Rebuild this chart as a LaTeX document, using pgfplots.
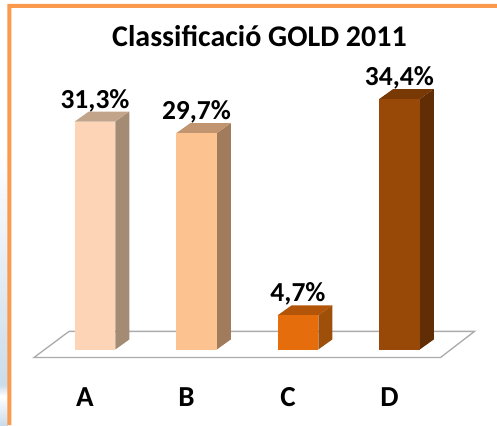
\documentclass[border=0pt]{standalone}
\usepackage{pgfplots}
\pgfplotsset{compat=1.18}
\usepackage{fontspec}
\setmainfont{Carlito}
\definecolor{frameO}{HTML}{FB9A4C}
\definecolor{stripA}{HTML}{E2EBF3}\definecolor{stripB}{HTML}{CBDCEA}
\definecolor{fA}{HTML}{FDD5B6}\definecolor{sA}{HTML}{A38B74}\definecolor{tA}{HTML}{C2A48A}
\definecolor{fB}{HTML}{FCC290}\definecolor{sB}{HTML}{A07C5C}\definecolor{tB}{HTML}{C09570}
\definecolor{fC}{HTML}{E56D0B}\definecolor{sC}{HTML}{9E4F0A}\definecolor{tC}{HTML}{B35509}
\definecolor{fD}{HTML}{984807}\definecolor{sD}{HTML}{612D04}\definecolor{tD}{HTML}{793905}
\definecolor{flr}{HTML}{ABABAB}
\newcommand{\px}[2]{(rel axis cs:{#1/497},{1-#2/425})}
\begin{document}
\begin{tikzpicture}
\begin{axis}[
  scale only axis, width=497pt, height=425pt,
  xmin=-0.936, xmax=3.961, ymin=-10.37, ymax=48.0,
  hide axis, clip=false,
]
% page background and the photo strip on the left
\fill[white] \px{0}{0} rectangle \px{497}{425};
\fill[top color=white,bottom color=stripA] \px{0}{150} rectangle \px{8}{280};
\fill[top color=stripA,bottom color=stripB] \px{0}{280} rectangle \px{8}{385};
\fill[top color=stripB,bottom color=white] \px{0}{385} rectangle \px{8}{396};
\fill[top color=white,bottom color=stripB] \px{0}{396} rectangle \px{8}{425};
% orange frame
\fill[frameO] \px{7.5}{425} -- \px{7.5}{4} -- \px{497}{4} -- \px{497}{8} -- \px{11.5}{8} -- \px{11.5}{425} -- cycle;
% floor
\addplot[draw=flr,line width=1.3pt,fill=white] coordinates {(-0.601,-1.1) (3.404,-1.1) (3.739,2.49) (-0.256,2.49)} -- cycle;
% side faces
\addplot[draw=none,fill=sA] coordinates {(0.2,0) (0.338,1.374) (0.338,32.674) (0.2,31.3)} -- cycle;
\addplot[draw=none,fill=sB] coordinates {(1.2,0) (1.338,1.374) (1.338,31.074) (1.2,29.7)} -- cycle;
\addplot[draw=none,fill=sC] coordinates {(2.2,0) (2.338,1.374) (2.338,6.074) (2.2,4.7)} -- cycle;
\addplot[draw=none,fill=sD] coordinates {(3.2,0) (3.338,1.374) (3.338,35.774) (3.2,34.4)} -- cycle;
% top faces
\addplot[draw=none,fill=tA] coordinates {(-0.2,31.3) (0.2,31.3) (0.338,32.674) (-0.062,32.674)} -- cycle;
\addplot[draw=none,fill=tB] coordinates {(0.8,29.7) (1.2,29.7) (1.338,31.074) (0.938,31.074)} -- cycle;
\addplot[draw=none,fill=tC] coordinates {(1.8,4.7) (2.2,4.7) (2.338,6.074) (1.938,6.074)} -- cycle;
\addplot[draw=none,fill=tD] coordinates {(2.8,34.4) (3.2,34.4) (3.338,35.774) (2.938,35.774)} -- cycle;
% front faces
\addplot[ybar,bar width=40.5pt,bar shift=0pt,draw=none,fill=fA] coordinates {(0,31.3)};
\addplot[ybar,bar width=40.5pt,bar shift=0pt,draw=none,fill=fB] coordinates {(1,29.7)};
\addplot[ybar,bar width=40.5pt,bar shift=0pt,draw=none,fill=fC] coordinates {(2,4.7)};
\addplot[ybar,bar width=40.5pt,bar shift=0pt,draw=none,fill=fD] coordinates {(3,34.4)};
% value labels
\addplot[draw=none,mark=none,point meta=explicit symbolic,
  nodes near coords,
  every node near coord/.style={anchor=center,yshift=21pt,font=\fontsize{27.5}{27.5}\selectfont\bfseries,text=black,inner sep=0pt}]
  coordinates {(0,31.3)[31,3\%] (1,29.7)[29,7\%] (2,4.7)[4,7\%] (3,34.4)[34,4\%]};
% category labels
\addplot[draw=none,mark=none,point meta=explicit symbolic,
  nodes near coords,
  every node near coord/.style={anchor=center,xshift=-10pt,font=\fontsize{29}{29}\selectfont\bfseries,text=black,inner sep=0pt}]
  coordinates {(0,-6.5)[A] (1,-6.5)[B] (2,-6.5)[C] (3,-6.5)[D]};
% title
\node[font=\fontsize{30}{30}\selectfont\bfseries,text=black,inner sep=0pt] at \px{259.5}{36} {Classif{}icació GOLD 2011};
\end{axis}
\end{tikzpicture}
\end{document}
